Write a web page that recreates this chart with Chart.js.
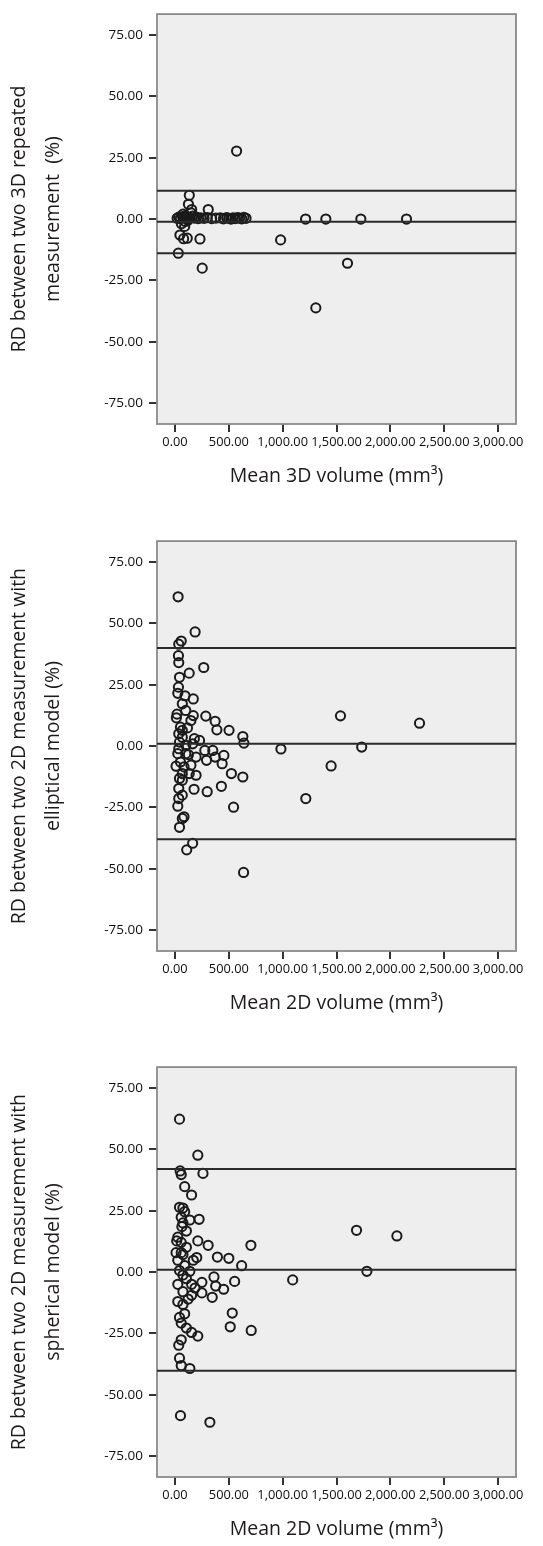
<!DOCTYPE html>
<html>
<head>
<meta charset="utf-8">
<script src="https://cdn.jsdelivr.net/npm/chart.js@4.4.1/dist/chart.umd.min.js"></script>
<style>
  body { margin: 0; background: #fff; width: 543px; height: 1546px; overflow: hidden; }
  .box { position: absolute; left: 0; width: 543px; height: 492px; }
</style>
</head>
<body>
<div class="box" style="top:0px"><canvas id="c1"></canvas></div>
<div class="box" style="top:527px"><canvas id="c2"></canvas></div>
<div class="box" style="top:1053px"><canvas id="c3"></canvas></div>

<script>
// axis ticks (same for all three panels)
var xTicks = [0, 500, 1000, 1500, 2000, 2500, 3000];
var yTicks = [-75, -50, -25, 0, 25, 50, 75];

// panel 1: RD between two 3D repeated measurements vs mean 3D volume
var rep3dX = [572, 133, 125, 155, 309, 150, 46, 90, 114, 232, 80, 31, 253, 981, 1213, 1401, 1726, 2150, 1602, 1308, 60,
  20, 35, 50, 70, 85, 100, 110, 140, 165, 180, 200, 215, 240, 270, 300, 340, 380, 420, 450, 480, 500, 520, 540, 560, 580, 600, 620, 640, 660, 95, 75, 120];
var rep3dY = [27.7, 9.7, 6.0, 3.9, 3.9, 2.5, -6.5, -3.0, -7.8, -8.1, -8.0, -13.9, -20.0, -8.5, 0, 0, 0, 0, -18.0, -36.2, -1.9,
  0.3, 0.8, 0.2, 1.0, 0.5, 1.4, 0.0, 0.6, 1.2, 0.4, 0.8, 0.2, 0.5, 0.3, 0.6, 0.2, 0.4, 0.5, 0.1, 0.6, 0.3, 0.0, 0.5, 0.2, 0.6, 0.4, 0.1, 0.7, 0.3, -1.0, 2.0, -0.5];
var rep3dLimits = [11.5, -1.1, -13.9]; // upper LoA, mean, lower LoA

// panel 2: 2D elliptical model
var ellX = [29, 187, 58, 35, 32, 35, 267, 132, 42, 32, 26, 93, 170, 68, 100, 13, 170, 286, 373, 389,
  502, 630, 640, 51, 116, 35, 68, 180, 228, 100, 26, 125, 196, 293, 351, 373, 454, 438, 51, 84,
  10, 196, 132, 42, 68, 524, 630, 431, 177, 299, 68, 35, 26, 84, 68, 42, 164, 109, 544, 637,
  984, 1215, 1450, 1537, 1734, 2271, 19, 68, 42, 164, 277, 148, 68, 35, 100, 35, 148];
var ellY = [60.8, 46.5, 42.8, 41.5, 36.8, 34, 32, 29.7, 28, 24, 21.5, 20.5, 19.2, 17.2, 14.5, 11.5, 12.4, 12.2, 10.1, 6.6,
  6.4, 3.9, 1.2, 7.7, 7.4, 5, 3.6, 3, 2.3, 0.3, -3.1, -3.5, -4.5, -5.8, -1.8, -4.5, -3.8, -7.2, -6.5, -8.5,
  -8.2, -11.9, -11.2, -13.2, -11.2, -11.2, -12.6, -16.4, -17.6, -18.6, -20, -21.4, -24.5, -28.8, -29.5, -33.1, -39.6, -42.3, -24.9, -51.5,
  -1.2, -21.4, -8.1, 12.3, -0.4, 9.3, 13, 6.4, 1.6, 0.9, -1.8, -7.8, -13.9, -17.3, -3.1, -1.1, 10.4];
var ellLimits = [39.9, 0.95, -38.0];

// panel 3: 2D spherical model
var sphX = [42, 212, 48, 58, 260, 90, 154, 42, 74, 90, 58, 138, 224, 74, 64, 106, 26, 16, 58, 212,
  308, 705, 106, 58, 202, 170, 394, 500, 619, 1686, 2061, 1782, 1093, 554, 362, 250, 378, 452, 250, 346,
  154, 74, 26, 106, 138, 42, 26, 42, 58, 532, 513, 708, 106, 154, 212, 58, 35, 42, 58, 138,
  51, 324, 26, 90, 74, 122, 74, 90, 154, 186, 74, 10];
var sphY = [62.3, 47.6, 41.2, 39.7, 40.2, 34.8, 31.4, 26.4, 26.1, 24.6, 22.3, 21.2, 21.5, 20, 18.5, 16.7, 14.2, 12.7, 12.1, 12.7,
  10.9, 10.9, 10.1, 7.9, 5.9, 4.8, 6.1, 5.6, 2.6, 17, 14.7, 0.3, -3.2, -3.8, -2, -4.2, -5.7, -7, -8.5, -10.3,
  -9.5, -8, -5, -2.7, 0.3, 0.6, -12, -18.5, -20.8, -16.7, -22.3, -23.8, -22.8, -24.6, -26.1, -27.6, -29.8, -35.1, -38.1, -39.3,
  -58.5, -61.2, 4.8, 2.6, -1.2, -11, -13.2, -17, -5, -6.5, 7.1, 7.9];
var sphLimits = [42.0, 0.9, -40.2];

var xMin = -167, xMax = 3167;
var yMin = -83.5, yMax = 83.5;

Chart.defaults.font.family = "'Open Sans', sans-serif";
Chart.defaults.color = "#1e1a1b";

// grey plot area with a thin frame, like the SPSS output
var framePlugin = {
  id: "frame",
  beforeDraw: function (chart) {
    var a = chart.chartArea, ctx = chart.ctx;
    ctx.save();
    ctx.fillStyle = "#eeeeee";
    ctx.fillRect(a.left, a.top, a.right - a.left, a.bottom - a.top);
    ctx.restore();
  },
  beforeDatasetsDraw: function (chart) {
    var a = chart.chartArea, ctx = chart.ctx;
    ctx.save();
    ctx.strokeStyle = "#8a8a8a";
    ctx.lineWidth = 1.8;
    ctx.strokeRect(a.left, a.top, a.right - a.left, a.bottom - a.top);
    ctx.restore();
  }
};

function hline(v) {
  return {
    type: "line",
    data: [{ x: xMin, y: v }, { x: xMax, y: v }],
    borderColor: "#2a2a2a",
    borderWidth: 2,
    pointRadius: 0,
    fill: false
  };
}

function makeChart(id, xs, ys, limits, yTitle, xTitle) {
  var pts = xs.map(function (x, i) { return { x: x, y: ys[i] }; });
  var datasets = [hline(limits[0]), hline(limits[1]), hline(limits[2]), {
    type: "scatter",
    data: pts,
    pointStyle: "circle",
    pointRadius: 4.6,
    borderWidth: 2,
    borderColor: "#1a1a1a",
    backgroundColor: "rgba(0,0,0,0)"
  }];

  new Chart(document.getElementById(id), {
    type: "scatter",
    data: { datasets: datasets },
    plugins: [framePlugin],
    options: {
      responsive: true,
      maintainAspectRatio: false,
      animation: false,
      layout: { padding: { top: 14, right: 27, bottom: 0, left: 0 } },
      plugins: { legend: { display: false }, tooltip: { enabled: false } },
      scales: {
        x: {
          type: "linear",
          min: xMin,
          max: xMax,
          afterBuildTicks: function (s) { s.ticks = xTicks.map(function (v) { return { value: v }; }); },
          afterFit: function (s) { s.height = 68; },
          border: { display: false },
          grid: { drawOnChartArea: false, drawTicks: true, tickLength: 8, lineWidth: 2, color: "#333" },
          ticks: {
            autoSkip: false,
            maxRotation: 0,
            padding: 3,
            color: "#0d0d0d",
            font: { size: 12.8 },
            callback: function (v) { return v.toLocaleString("en-US", { minimumFractionDigits: 2, maximumFractionDigits: 2 }); }
          },
          title: { display: true, text: xTitle, font: { size: 19.5 }, padding: { top: 0, bottom: 4 } }
        },
        y: {
          min: yMin,
          max: yMax,
          afterBuildTicks: function (s) { s.ticks = yTicks.map(function (v) { return { value: v }; }); },
          afterFit: function (s) { s.width = 157; },
          border: { display: false },
          grid: { drawOnChartArea: false, drawTicks: true, tickLength: 8, lineWidth: 2, color: "#333" },
          ticks: {
            padding: 6,
            color: "#0d0d0d",
            font: { size: 13.5 },
            callback: function (v) { return v.toFixed(2); }
          },
          title: { display: true, text: yTitle, font: { size: 19.5, lineHeight: 1.75 }, padding: { top: 2, bottom: 0 } }
        }
      }
    }
  });
}

makeChart("c1", rep3dX, rep3dY, rep3dLimits,
  ["RD between two 3D repeated", "measurement  (%)"], "Mean 3D volume (mm\u00b3)");
makeChart("c2", ellX, ellY, ellLimits,
  ["RD between two 2D measurement with", "elliptical model (%)"], "Mean 2D volume (mm\u00b3)");
makeChart("c3", sphX, sphY, sphLimits,
  ["RD between two 2D measurement with", "spherical model (%)"], "Mean 2D volume (mm\u00b3)");
</script>
</body>
</html>
